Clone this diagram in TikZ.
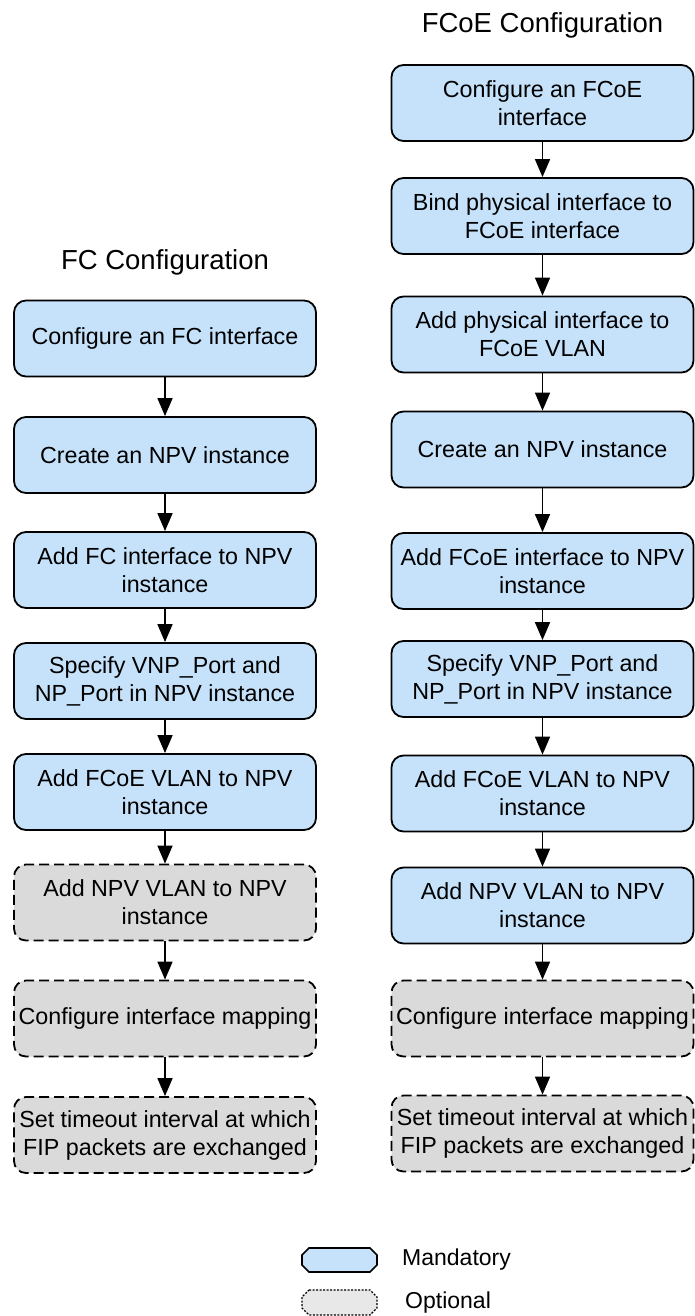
\documentclass[tikz,border=0pt]{standalone}
\usepackage{fontspec}
\setmainfont{Liberation Sans}
\usetikzlibrary{arrows.meta}
\definecolor{mandblue}{RGB}{198,226,250}
\definecolor{optgray}{RGB}{218,218,218}
\definecolor{legendgray}{RGB}{232,232,232}
\tikzset{
  box/.style={rectangle, rounded corners=12pt, draw=black, line width=1.8pt,
    minimum width=302pt, minimum height=76pt, inner sep=0pt, align=center,
    font=\fontsize{23.3}{28}\selectfont},
  mand/.style={box, fill=mandblue},
  opt/.style={box, fill=optgray, dash pattern=on 10pt off 5pt},
  title/.style={font=\fontsize{27.5}{33}\selectfont, inner sep=0pt},
  flow/.style={line width=1.6pt, -{Triangle[width=15pt,length=18pt]}},
  legtext/.style={font=\fontsize{23}{28}\selectfont, inner sep=0pt, anchor=west}
}
\begin{document}
\begin{tikzpicture}[x=1pt,y=-1pt]
\useasboundingbox (0,0) rectangle (694,1316);
% titles
\node[title] (tfc) at (165,262) {FC Configuration};
\node[title] (tfcoe) at (542.5,25) {FCoE Configuration};
% left column
\node[mand] (L1) at (165,338.5) {Configure an FC interface};
\node[mand] (L2) at (165,455) {Create an NPV instance};
\node[mand] (L3) at (165,570) {Add FC interface to NPV\\instance};
\node[mand] (L4) at (165,681) {Specify VNP\_Port and\\NP\_Port in NPV instance};
\node[mand] (L5) at (165,792) {Add FCoE VLAN to NPV\\instance};
\node[opt] (L6) at (165,902.5) {Add NPV VLAN to NPV\\instance};
\node[opt] (L7) at (165,1018.5) {Configure interface mapping};
\node[opt] (L8) at (165,1135) {Set timeout interval at which\\FIP packets are exchanged};
% right column
\node[mand] (R1) at (542.5,103) {Configure an FCoE\\interface};
\node[mand] (R2) at (542.5,216) {Bind physical interface to\\FCoE interface};
\node[mand] (R3) at (542.5,334.5) {Add physical interface to\\FCoE VLAN};
\node[mand] (R4) at (542.5,449.5) {Create an NPV instance};
\node[mand] (R5) at (542.5,571) {Add FCoE interface to NPV\\instance};
\node[mand] (R6) at (542.5,679) {Specify VNP\_Port and\\NP\_Port in NPV instance};
\node[mand] (R7) at (542.5,793.5) {Add FCoE VLAN to NPV\\instance};
\node[mand] (R8) at (542.5,905.5) {Add NPV VLAN to NPV\\instance};
\node[opt] (R9) at (542.5,1018.5) {Configure interface mapping};
\node[opt] (R10) at (542.5,1133.5) {Set timeout interval at which\\FIP packets are exchanged};
% arrows
\foreach \a/\b in {L1/L2,L2/L3,L3/L4,L4/L5,L5/L6,L6/L7,L7/L8,
                   R1/R2,R2/R3,R3/R4,R4/R5,R5/R6,R6/R7,R7/R8,R8/R9,R9/R10}
  \draw[flow] (\a.south) -- (\b.north);
% legend
\draw[line width=1.6pt, fill=mandblue] (309,1248) -- (370,1248) -- (377,1255) -- (377,1265) -- (370,1272) -- (309,1272) -- (302,1265) -- (302,1255) -- cycle;
\draw[line width=1.3pt, fill=legendgray, dash pattern=on 2pt off 1.5pt] (309,1290) -- (370,1290) -- (377,1297) -- (377,1308) -- (370,1315) -- (309,1315) -- (302,1308) -- (302,1297) -- cycle;
\node[legtext] (lm) at (402,1260) {Mandatory};
\node[legtext] (lo) at (405,1303) {Optional};
\end{tikzpicture}
\end{document}
